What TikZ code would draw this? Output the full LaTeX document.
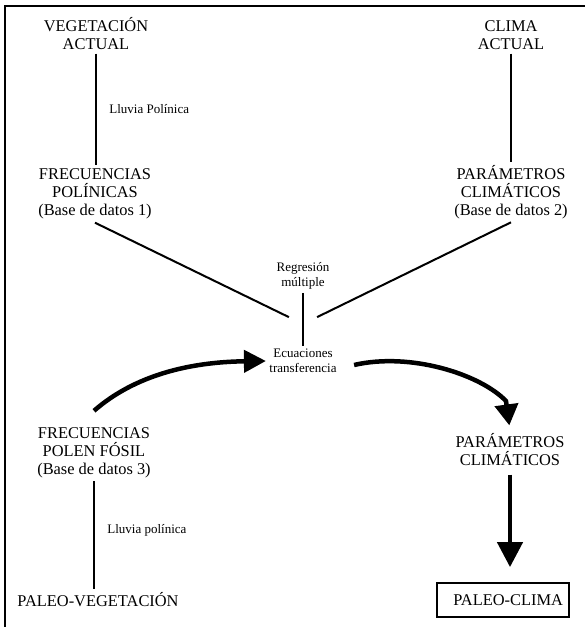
\documentclass[tikz,border=0pt]{standalone}
\usepackage{fontspec}
\setmainfont{Liberation Serif}
\usetikzlibrary{arrows.meta}

\begin{document}
\begin{tikzpicture}[x=1pt, y=-1pt,
        big/.style={align=center, font=\fontsize{16.4}{18}\selectfont},
        small/.style={align=center, font=\fontsize{13}{15}\selectfont},
        thin line/.style={line width=2pt},
        thick arrow/.style={line width=4.5pt}]
            \useasboundingbox (0,0) rectangle (585,627);

            % Draw the frame on the left and on top
            \draw[line width=1.5pt] (5,627) |- (585,6);

            % Draw present data on top
            \node[big] (Vegetacion) at (96, 34) {VEGETACIÓN\\ACTUAL};
            \node[big] (Clima) at (511, 35.5) {CLIMA\\ACTUAL};
            \node[big] (FreqPol) at (95, 194) {FRECUENCIAS\\POLÍNICAS\\(Base de datos 1)};
            \node[big] (ParamClim) at (511, 192) {PARÁMETROS\\CLIMÁTICOS\\(Base de datos 2)};

            \draw[thin line] (Vegetacion.south) -- (Vegetacion.south |- FreqPol.north)
                node[small, midway, right=9pt] (LluviaAct) {Lluvia Polínica};
            \draw[thin line] (Clima.south) -- (Clima.south |- ParamClim.north);

            % Regression in the middle
            \node[small] (Regresion) at (303, 276) {Regresión\\múltiple};
            \node[small] (Ecuaciones) at (303, 361) {Ecuaciones\\transferencia};
            \coordinate (Cruce) at (303, 324);
            \draw[thin line, shorten >=15.7pt] (FreqPol.south) -- (Cruce);
            \draw[thin line, shorten >=15.7pt] (ParamClim.south) -- (Cruce);
            \draw[thin line] (Regresion) -- (Ecuaciones);

            % Fossil data below
            \node[big] (FreqFosil) at (94, 452.5) {FRECUENCIAS\\POLEN FÓSIL\\(Base de datos 3)};
            \node[big] (PaleoVeg) at (98, 599.5) {PALEO-VEGETACIÓN};
            \draw[thin line] (FreqFosil.south) -- (FreqFosil.south |- PaleoVeg.north)
                node[small, pos=0.46, right=9pt] (LluviaFosil) {Lluvia polínica};

            \node[big] (ParamPaleo) at (510, 450) {PARÁMETROS\\CLIMÁTICOS};
            \node[big, draw, line width=1.8pt, minimum height=34pt, text width=120pt, inner xsep=6pt, align=right]
                (PaleoClima) at (503, 600) {PALEO-CLIMA};

            % Add the thick arrows
            \draw[thick arrow, -{Triangle[length=22pt, width=22pt]}] ([yshift=13pt]FreqFosil.north)
                .. controls (135,375) and (190,362) .. (Ecuaciones.west);
            \draw[thick arrow, -{Triangle[length=21pt, width=23pt]}, shorten >=5pt] ([shift={(14pt,-4pt)}]Ecuaciones.east)
                .. controls (410,352) and (480,374) .. (506,401) -- (ParamPaleo.north);
            \draw[thick arrow, -{Triangle[length=25pt, width=25pt]}, shorten <=5pt, shorten >=15pt]
                (ParamPaleo.south) -- (ParamPaleo.south |- PaleoClima.north);

        \end{tikzpicture}
\end{document}
